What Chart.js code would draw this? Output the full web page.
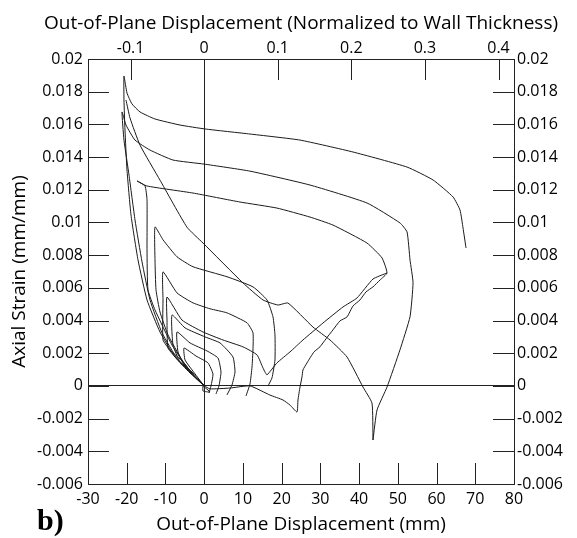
<!DOCTYPE html>
<html>
<head>
<meta charset="utf-8">
<script src="https://cdn.jsdelivr.net/npm/chart.js@4"></script>
<style>
  html, body { margin: 0; padding: 0; background: #fff; }
  #wrap { width: 577px; height: 538px; }
</style>
</head>
<body>
<div id="wrap"><canvas id="myChart" width="577" height="538"></canvas></div>
<script>
// axis ranges and tick labels
const xTicks = [-30, -20, -10, 0, 10, 20, 30, 40, 50, 60, 70, 80];
const yTicks = [-0.006, -0.004, -0.002, 0, 0.002, 0.004, 0.006, 0.008, 0.01, 0.012, 0.014, 0.016, 0.018, 0.02];
const topTicks = [-0.1, 0, 0.1, 0.2, 0.3, 0.4];
const wallThickness = 190; // mm

const topTitle = 'Out-of-Plane Displacement (Normalized to Wall Thickness)';
const bottomTitle = 'Out-of-Plane Displacement (mm)';
const yTitle = 'Axial Strain (mm/mm)';

// cycles: displacement (mm) and axial strain (mm/mm)
const c1X = [0, -3.66, -7.54, -11.41, -14.76, -17.09, -18.90, -19.93, -20.45, -20.71, -20.71, -19.93, -18.64, -16.57, -12.70, -6.24, 0.21, 11.83, 24.74, 38.43, 52.38, 59.09, 64.26, 66.06, 66.84, 67.61];
const c1Y = [0, 0.00079, 0.00177, 0.00330, 0.00526, 0.00771, 0.01046, 0.01321, 0.01566, 0.01749, 0.01896, 0.01792, 0.01725, 0.01676, 0.01633, 0.01596, 0.01572, 0.01541, 0.01504, 0.01431, 0.01339, 0.01260, 0.01156, 0.01076, 0.00966, 0.00844];

const c2X = [0, -3.14, -6.76, -10.89, -13.99, -16.05, -17.86, -19.41, -20.71, -21.22, -20.19, -17.86, -13.99, -8.06, 0, 11.83, 27.32, 42.05, 50.56, 52.38, 53.15, 53.93, 53.15, 50.56, 47.21, 44.63, 43.59];
const c2Y = [0, 0.00073, 0.00159, 0.00325, 0.00526, 0.00759, 0.01015, 0.01290, 0.01504, 0.01676, 0.01596, 0.01504, 0.01443, 0.01382, 0.01357, 0.01314, 0.01229, 0.01119, 0.00997, 0.00942, 0.00771, 0.00631, 0.00423, 0.00221, -0.00007, -0.00147, -0.00331];

// long diagonal from the lowest point back up to the left
const diagX = [43.59, 43.33, 41.01, 36.88, 32.49, 28.10, 21.64, 19.06, 15.18, 10.02, -0.30, -4.44, -11.41, -16.57, -19.15, -20.19];
const diagY = [-0.00331, -0.00105, -0.00007, 0.00177, 0.00281, 0.00360, 0.00507, 0.00495, 0.00526, 0.00630, 0.00874, 0.00971, 0.01259, 0.01473, 0.01639, 0.01749];

const c3X = [0, -3.66, -8.31, -12.70, -14.51, -14.76, -14.76, -15.28, -17.35, -14.76, -2.89, 9.25, 18.80, 27.32, 33.26, 42.05, 45.92, 47.21,
  45.40, 43.59, 41.78, 40.23, 38.42, 36.88, 35.07, 33.26, 31.45, 29.90, 28.35, 26.55, 25.51, 25.26, 24.74, 24.22, 23.97,
  22.16, 20.35, 16.99, 11.83, 6.66, 1.50, 0];
const c3Y = [0, 0.00085, 0.00250, 0.00465, 0.00588, 0.00832, 0.01138, 0.01223, 0.01254, 0.01223, 0.01180, 0.01125, 0.01088, 0.01033, 0.00984, 0.00874, 0.00783, 0.00691,
  0.00648, 0.00606, 0.00575, 0.00526, 0.00489, 0.00422, 0.00398, 0.00343, 0.00288, 0.00239, 0.00208, 0.00141, 0.00098, 0.00055, -0.00007, -0.00086, -0.00160,
  -0.00117, -0.00086, -0.00056, 0, -0.00013, -0.00018, 0];

const c4X = [0, -2.37, -5.73, -9.34, -11.41, -12.44, -12.70, -12.70, -10.63, -7.02, -2.89, 5.89, 12.60, 16.22, 17.77, 18.28, 18.28, 17.51, 16.48];
const c4Y = [0, 0.00055, 0.00159, 0.00312, 0.00452, 0.00588, 0.00771, 0.00973, 0.00894, 0.00790, 0.00729, 0.00668, 0.00606, 0.00526, 0.00422, 0.00312, 0.00159, 0.00049, 0];

// straight-ish branch rising to the right
const riseX = [15.70, 16.22, 18.80, 22.16, 25.51, 30.68, 35.84, 39.46, 43.59, 47.21];
const riseY = [0.00085, 0.00067, 0.00141, 0.00208, 0.00281, 0.00385, 0.00483, 0.00538, 0.00654, 0.00691];

const c5X = [0, -2.37, -5.47, -8.83, -10.63, -10.63, -10.63, -7.02, -2.89, 1.50, 5.89, 11.06, 12.60, 12.60, 12.35, 11.83, 10.80];
const c5Y = [0, 0.00055, 0.00147, 0.00220, 0.00281, 0.00526, 0.00698, 0.00569, 0.00508, 0.00472, 0.00447, 0.00386, 0.00325, 0.00220, 0.00116, 0.00012, -0.00061];

const c6X = [0, -3.14, -6.76, -9.34, -9.60, -9.60, -5.73, -0.30, 4.86, 10.02, 13.64, 15.18, 15.70];
const c6Y = [0, 0.00085, 0.00159, 0.00232, 0.00403, 0.00544, 0.00403, 0.00330, 0.00281, 0.00239, 0.00190, 0.00110, 0.00085];

const c7X = [0, -2.89, -6.24, -8.05, -8.31, -4.95, 0.21, 4.09, 7.44, 7.96, 7.18, 5.89];
const c7Y = [0, 0.00067, 0.00147, 0.00250, 0.00434, 0.00355, 0.00300, 0.00263, 0.00177, 0.00085, 0.00006, -0.00055];

const c8X = [0, -2.37, -5.21, -6.76, -7.02, -3.66, 0.73, 3.57, 4.34, 3.82, 3.05];
const c8Y = [0, 0.00055, 0.00128, 0.00208, 0.00330, 0.00263, 0.00214, 0.00171, 0.00085, 0, -0.00049];

const c9X = [0, -3.14, -4.95, -5.21, -2.12, 0.98, 2.27, 1.76, 1.24];
const c9Y = [0, 0.00098, 0.00159, 0.00232, 0.00183, 0.00141, 0.00073, 0, -0.00043];

const c0X = [-0.30, 1.50, -0.30, -0.30];
const c0Y = [0, -0.00037, -0.00031, 0];

const series = [
  [c0X, c0Y], [c9X, c9Y], [c8X, c8Y], [c7X, c7Y], [c6X, c6Y], [c5X, c5Y],
  [c4X, c4Y], [riseX, riseY], [c3X, c3Y], [c2X, c2Y], [diagX, diagY], [c1X, c1Y]
];

const lineColor = '#1a1a1a';
const axisColor = '#222';
const tickFont = { family: 'Open Sans', size: 16 };

const datasets = series.map(s => ({
  data: s[0].map((x, i) => ({ x: x, y: s[1][i] })),
  showLine: true,
  borderColor: lineColor,
  borderWidth: 1,
  pointRadius: 0,
  tension: 0.15,
  fill: false,
  xAxisID: 'x',
  yAxisID: 'y'
}));

function fixTicks(list) {
  return function (scale) {
    scale.ticks = list.map(v => ({ value: v }));
  };
}

// inward tick marks + titles
const decor = {
  id: 'decor',
  afterDraw(chart) {
    const ctx = chart.ctx;
    const a = chart.chartArea;
    const L = 21;
    ctx.save();
    ctx.strokeStyle = axisColor;
    ctx.lineWidth = 1;
    ctx.beginPath();
    const sx = chart.scales.x, sx2 = chart.scales.x2, sy = chart.scales.y, sy2 = chart.scales.y2;
    sx.ticks.forEach(t => {
      const p = Math.round(sx.getPixelForValue(t.value)) + 0.5;
      ctx.moveTo(p, a.bottom); ctx.lineTo(p, a.bottom - L);
    });
    sx2.ticks.forEach(t => {
      const p = Math.round(sx2.getPixelForValue(t.value)) + 0.5;
      ctx.moveTo(p, a.top); ctx.lineTo(p, a.top + L);
    });
    sy.ticks.forEach(t => {
      const p = Math.round(sy.getPixelForValue(t.value)) + 0.5;
      ctx.moveTo(a.left, p); ctx.lineTo(a.left + L, p);
    });
    sy2.ticks.forEach(t => {
      const p = Math.round(sy2.getPixelForValue(t.value)) + 0.5;
      ctx.moveTo(a.right, p); ctx.lineTo(a.right - L, p);
    });
    ctx.stroke();

    ctx.fillStyle = '#000';
    ctx.font = '19px "Open Sans"';
    ctx.textAlign = 'center';
    ctx.textBaseline = 'alphabetic';
    const cx = (a.left + a.right) / 2;
    ctx.fillText(topTitle, cx, 29);
    ctx.fillText(bottomTitle, cx, 530);
    ctx.save();
    ctx.translate(25, (a.top + a.bottom) / 2);
    ctx.rotate(-Math.PI / 2);
    ctx.fillText(yTitle, 0, 0);
    ctx.restore();

    ctx.font = 'bold 30px "Liberation Serif"';
    ctx.textAlign = 'left';
    ctx.fillText('b)', 37, 530);
    ctx.restore();
  }
};

const ctx = document.getElementById('myChart').getContext('2d');
new Chart(ctx, {
  type: 'scatter',
  data: { datasets: datasets },
  options: {
    responsive: false,
    animation: false,
    devicePixelRatio: 1,
    layout: { padding: 0 },
    plugins: { legend: { display: false }, tooltip: { enabled: false } },
    scales: {
      x: {
        type: 'linear', position: 'bottom', min: -30, max: 80,
        afterBuildTicks: fixTicks(xTicks),
        afterFit: s => { s.height = 54; },
        grid: { drawTicks: false, color: c => c.tick && c.tick.value === 0 ? axisColor : 'rgba(0,0,0,0)' },
        border: { color: axisColor, width: 1 },
        ticks: { autoSkip: false, maxRotation: 0, padding: 6, color: '#000', font: tickFont, callback: v => String(v) }
      },
      x2: {
        type: 'linear', position: 'top', min: -30 / wallThickness, max: 80 / wallThickness,
        afterBuildTicks: fixTicks(topTicks),
        afterFit: s => { s.height = 59; },
        grid: { drawTicks: false, drawOnChartArea: false },
        border: { color: axisColor, width: 1 },
        ticks: { autoSkip: false, maxRotation: 0, padding: 1, color: '#000', font: tickFont, callback: v => String(v) }
      },
      y: {
        type: 'linear', position: 'left', min: -0.006, max: 0.02,
        afterBuildTicks: fixTicks(yTicks),
        afterFit: s => { s.width = 88; },
        grid: { drawTicks: false, color: c => c.tick && c.tick.value === 0 ? axisColor : 'rgba(0,0,0,0)' },
        border: { color: axisColor, width: 1 },
        ticks: { autoSkip: false, padding: 5, color: '#000', font: tickFont, callback: v => String(v) }
      },
      y2: {
        type: 'linear', position: 'right', min: -0.006, max: 0.02,
        afterBuildTicks: fixTicks(yTicks),
        afterFit: s => { s.width = 63; },
        grid: { drawTicks: false, drawOnChartArea: false },
        border: { color: axisColor, width: 1 },
        ticks: { autoSkip: false, padding: 3, color: '#000', font: tickFont, callback: v => String(v) }
      }
    }
  },
  plugins: [decor]
});
</script>
</body>
</html>
